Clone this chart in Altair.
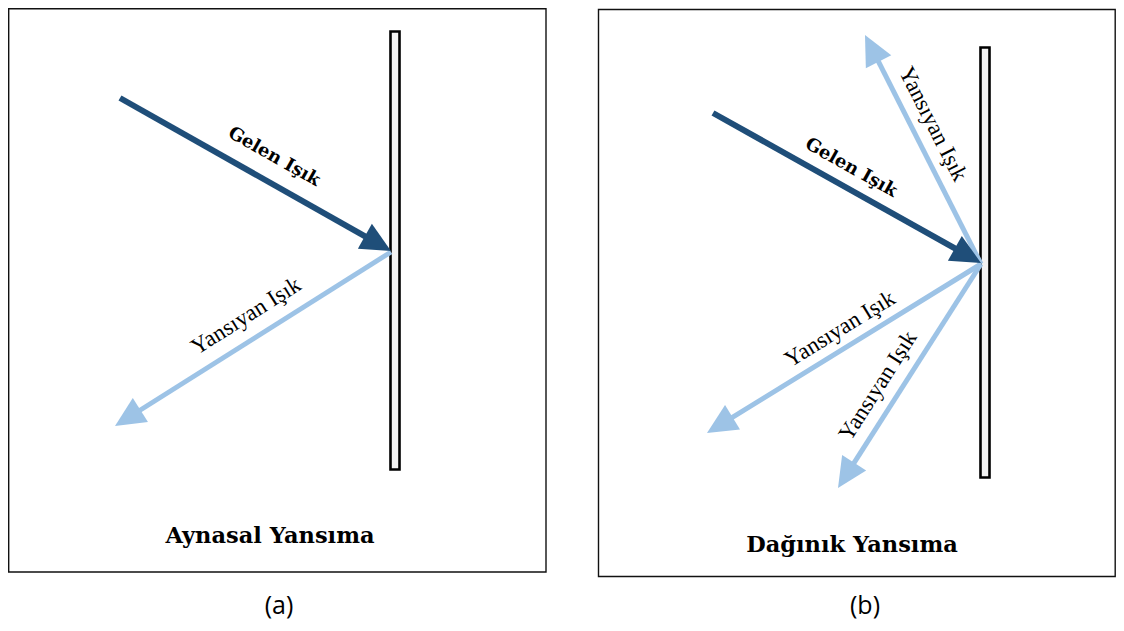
import math
import altair as alt
import pandas as pd

# ---- data (image pixel coordinates of the diagram) ----
panel_x0 = [8.7, 598.5]
panel_x1 = [546.0, 1115.2]
panel_y0 = [8.7, 9.5]
panel_y1 = [572.0, 576.5]

mirror_x0 = [390.5, 980.5]
mirror_x1 = [399.5, 989.5]
mirror_y0 = [31.5, 47.5]
mirror_y1 = [469.5, 477.5]

arrow_x0 = [120, 391, 713, 981, 981, 981]
arrow_y0 = [98, 252, 113, 264, 264, 264]
arrow_x1 = [391, 115, 981, 865, 707, 838]
arrow_y1 = [251, 426, 263, 35, 433, 488]
arrow_kind = ["gelen", "yansiyan", "gelen", "yansiyan", "yansiyan", "yansiyan"]

label_text = ["Gelen Işık", "Yansıyan Işık", "Gelen Işık", "Yansıyan Işık", "Yansıyan Işık", "Yansıyan Işık"]
label_x = [274, 246, 851, 933, 840, 878]
label_y = [157, 316, 168, 124, 329, 386]
label_bold = [True, False, True, False, False, False]

title_text = ["Aynasal Yansıma", "Dağınık Yansıma"]
title_x = [270, 852]
title_y = [543, 552]

caption_text = ["(a)", "(b)"]
caption_x = [279, 865]
caption_y = [606, 606]

DARK = "#1F4E79"
LIGHT = "#9DC3E6"
HEAD = 30.0

W, H = 1108, 615
xs = alt.Scale(domain=[8, 8 + W], range=[0, W])
ys = alt.Scale(domain=[8, 8 + H], range=[0, H])

panels = pd.DataFrame({"x": panel_x0, "x2": panel_x1, "y": panel_y0, "y2": panel_y1})
mirrors = pd.DataFrame({"x": mirror_x0, "x2": mirror_x1, "y": mirror_y0, "y2": mirror_y1})

# arrows: shaft + head derived from endpoints
rows = []
for x0, y0, x1, y1, k in zip(arrow_x0, arrow_y0, arrow_x1, arrow_y1, arrow_kind):
    dx, dy = x1 - x0, y1 - y0
    L = math.hypot(dx, dy)
    ux, uy = dx / L, dy / L
    cx, cy = x1 - ux * HEAD / 2, y1 - uy * HEAD / 2
    ang = math.degrees(math.atan2(ux, -uy)) % 360
    rows.append({
        "x0": x0, "y0": y0, "xe": cx, "ye": cy, "hx": cx, "hy": cy, "ang": ang,
        "color": DARK if k == "gelen" else LIGHT,
        "sw": 6 if k == "gelen" else 5,
    })
arrows = pd.DataFrame(rows)

labels = pd.DataFrame({"t": label_text, "x": label_x, "y": label_y, "bold": label_bold})
ang_list = []
for i in range(len(label_text)):
    dx, dy = arrow_x1[i] - arrow_x0[i], arrow_y1[i] - arrow_y0[i]
    a = math.degrees(math.atan2(dy, dx))
    if a > 90:
        a -= 180
    elif a < -90:
        a += 180
    ang_list.append(a % 360)
labels["ang"] = ang_list

titles = pd.DataFrame({"t": title_text, "x": title_x, "y": title_y})
captions = pd.DataFrame({"t": caption_text, "x": caption_x, "y": caption_y})

X = lambda f: alt.X(f, type="quantitative", scale=xs, axis=None)
Y = lambda f: alt.Y(f, type="quantitative", scale=ys, axis=None)

panel_layer = alt.Chart(panels).mark_rect(fill="white", stroke="#111111", strokeWidth=1.4).encode(
    x=X("x"), x2="x2", y=Y("y"), y2="y2")
mirror_layer = alt.Chart(mirrors).mark_rect(fill="#F2F2F2", stroke="#000000", strokeWidth=2.6).encode(
    x=X("x"), x2="x2", y=Y("y"), y2="y2")

shaft = alt.Chart(arrows).mark_rule(strokeCap="butt").encode(
    x=X("x0"), x2="xe", y=Y("y0"), y2="ye",
    color=alt.Color("color:N", scale=None),
    strokeWidth=alt.StrokeWidth("sw:Q", scale=None),
)
head = alt.Chart(arrows).mark_point(
    shape="M0,-1L-0.95,1L0.95,1Z", filled=True, opacity=1, size=HEAD * HEAD, strokeWidth=0
).encode(
    x=X("hx"), y=Y("hy"),
    color=alt.Color("color:N", scale=None),
    angle=alt.Angle("ang:Q", scale=None),
)

lab_bold = alt.Chart(labels[labels["bold"]]).mark_text(
    font="DejaVu Serif", fontWeight="bold", fontSize=18, color="black", baseline="middle", align="center"
).encode(x=X("x"), y=Y("y"), text="t:N", angle=alt.Angle("ang:Q", scale=None))
lab_reg = alt.Chart(labels[~labels["bold"]]).mark_text(
    font="Liberation Serif", fontSize=23, color="black", baseline="middle", align="center"
).encode(x=X("x"), y=Y("y"), text="t:N", angle=alt.Angle("ang:Q", scale=None))

title_layer = alt.Chart(titles).mark_text(
    font="DejaVu Serif", fontWeight="bold", fontSize=22.5, color="black", baseline="alphabetic", align="center"
).encode(x=X("x"), y=Y("y"), text="t:N")
caption_layer = alt.Chart(captions).mark_text(
    font="Open Sans", fontSize=25, color="black", baseline="middle", align="center"
).encode(x=X("x"), y=Y("y"), text="t:N")

chart = alt.layer(
    panel_layer, mirror_layer, shaft, head, lab_bold, lab_reg, title_layer, caption_layer
).properties(
    width=W, height=H, padding=0, autosize=alt.AutoSizeParams(type="none")
).configure_view(stroke=None)

chart.save("out.html", embed_options={"renderer": "svg", "actions": False})
